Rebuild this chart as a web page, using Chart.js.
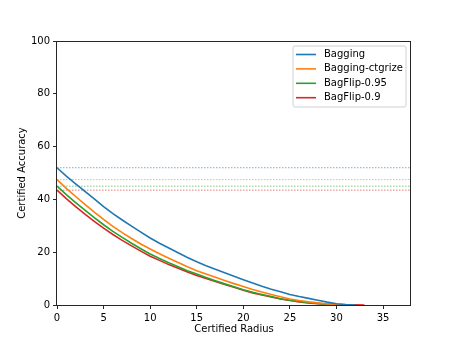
<!DOCTYPE html>
<html>
<head>
<meta charset="utf-8">
<script src="https://cdn.jsdelivr.net/npm/chart.js@4/dist/chart.umd.min.js"></script>
<style>
html,body{margin:0;padding:0;background:#fff;}
#wrap{width:457px;height:343px;position:relative;}
</style>
</head>
<body>
<div id="wrap"><canvas id="c" width="457" height="343"></canvas></div>
<script>
const seriesNames = ["Bagging", "Bagging-ctgrize", "BagFlip-0.95", "BagFlip-0.9"];
const seriesColors = ["#1f77b4", "#ff7f0e", "#2ca02c", "#d62728"];
const radii = [0,1,2,3,4,5,6,7,8,9,10,11,12,13,14,15,16,17,18,19,20,21,22,23,24,25,26,27,28,29,30,31,32,33];
const bagging = [52,48.8,45.9,43,40.2,37.3,34.6,32.2,29.9,27.6,25.4,23.4,21.6,19.8,18,16.4,14.9,13.5,12.2,10.9,9.6,8.3,7.1,6,5,4,3.2,2.5,1.8,1.1,0.5,0.2,0];
const baggingCtgrize = [47.5,44.2,41.1,38.1,35.2,32.4,29.8,27.4,25.2,23.1,21.2,19.4,17.7,16.1,14.5,13,11.7,10.5,9.3,8.1,7,5.9,4.9,4,3.1,2.3,1.7,1.2,0.8,0.4,0.2,0.1,0];
const bagflip095 = [45,41.8,38.8,35.9,33.1,30.4,27.9,25.6,23.4,21.3,19.3,17.6,16,14.5,13,11.7,10.4,9.2,8,6.9,5.8,4.8,4,3.2,2.4,1.8,1.3,0.9,0.6,0.3,0.15,0.05,0];
const bagflip09 = [43.5,40.3,37.3,34.4,31.7,29.1,26.7,24.5,22.4,20.4,18.5,16.9,15.3,13.9,12.5,11.2,10,8.9,7.8,6.7,5.6,4.6,3.8,3,2.3,1.7,1.2,0.8,0.5,0.3,0.15,0.08,0.03,0];
const cleanAccuracy = [52, 47.5, 45, 43.5];
const xTicks = [0,5,10,15,20,25,30,35];
const yTicks = [0,20,40,60,80,100];
const xMax = 38;

const curves = [bagging, baggingCtgrize, bagflip095, bagflip09];

function hexA(hex, a){
  const n = parseInt(hex.slice(1),16);
  return `rgba(${(n>>16)&255},${(n>>8)&255},${n&255},${a})`;
}

const datasets = [];
curves.forEach((vals, i) => {
  datasets.push({
    label: seriesNames[i],
    data: vals.map((v, k) => ({x: radii[k], y: v})),
    borderColor: seriesColors[i],
    backgroundColor: seriesColors[i],
    borderWidth: 1.6,
    pointRadius: 0,
    tension: 0,
    fill: false,
    order: 1
  });
});
cleanAccuracy.forEach((v, i) => {
  datasets.push({
    label: '_clean' + i,
    data: [{x: 0, y: v}, {x: xMax, y: v}],
    borderColor: hexA(seriesColors[i], 0.6),
    borderWidth: 1,
    borderDash: [1.5, 1.5],
    pointRadius: 0,
    fill: false,
    order: 2
  });
});

const framePlugin = {
  id: 'frame',
  afterDatasetsDraw(chart) {
    const {ctx, chartArea: a} = chart;
    ctx.save();
    ctx.strokeStyle = '#262626';
    ctx.lineWidth = 1;
    const l = Math.round(a.left) - 0.5, t = Math.round(a.top) + 0.5;
    const r = Math.round(a.right) - 0.5, b = Math.round(a.bottom) + 0.5;
    ctx.strokeRect(l, t, r - l, b - t);
    ctx.restore();
  }
};

const legendPlugin = {
  id: 'mplLegend',
  afterDraw(chart) {
    const ctx = chart.ctx;
    const a = chart.chartArea;
    const bx = a.right - 118, by = a.top + 5, bw = 113, bh = 61;
    ctx.save();
    ctx.fillStyle = 'rgba(255,255,255,0.8)';
    ctx.strokeStyle = '#d0d0d0';
    ctx.lineWidth = 1;
    const r = 2;
    ctx.beginPath();
    ctx.moveTo(bx + r, by);
    ctx.lineTo(bx + bw - r, by);
    ctx.quadraticCurveTo(bx + bw, by, bx + bw, by + r);
    ctx.lineTo(bx + bw, by + bh - r);
    ctx.quadraticCurveTo(bx + bw, by + bh, bx + bw - r, by + bh);
    ctx.lineTo(bx + r, by + bh);
    ctx.quadraticCurveTo(bx, by + bh, bx, by + bh - r);
    ctx.lineTo(bx, by + r);
    ctx.quadraticCurveTo(bx, by, bx + r, by);
    ctx.closePath();
    ctx.fill();
    ctx.stroke();
    ctx.font = '10px "DejaVu Sans"';
    ctx.textBaseline = 'middle';
    ctx.fillStyle = '#000';
    seriesNames.forEach((name, i) => {
      const y = by + 8.5 + i * 14.4;
      ctx.strokeStyle = seriesColors[i];
      ctx.lineWidth = 1.6;
      ctx.beginPath();
      ctx.moveTo(bx + 3, y);
      ctx.lineTo(bx + 23, y);
      ctx.stroke();
      ctx.fillText(name, bx + 31, y);
    });
    ctx.restore();
  }
};

new Chart(document.getElementById('c'), {
  type: 'line',
  data: { datasets },
  options: {
    responsive: false,
    animation: false,
    devicePixelRatio: 1,
    layout: { padding: { left: 0, right: 46, top: 41, bottom: 0 } },
    plugins: { legend: { display: false }, tooltip: { enabled: false } },
    scales: {
      x: {
        type: 'linear',
        min: 0, max: xMax,
        afterBuildTicks(s) { s.ticks = xTicks.map(v => ({value: v})); },
        afterFit(s) { s.height = 38; },
        grid: { display: true, drawOnChartArea: false, drawTicks: true, tickLength: 4, color: '#262626', lineWidth: 1 },
        border: { display: false },
        ticks: { color: '#000', font: { family: 'DejaVu Sans', size: 10 }, padding: 3, maxRotation: 0 },
        title: { display: true, text: 'Certified Radius', color: '#000', font: { family: 'DejaVu Sans', size: 10 }, padding: { top: 0, bottom: 8 } }
      },
      y: {
        type: 'linear',
        min: 0, max: 100,
        afterBuildTicks(s) { s.ticks = yTicks.map(v => ({value: v})); },
        afterFit(s) { s.width = 57; },
        grid: { display: true, drawOnChartArea: false, drawTicks: true, tickLength: 4, color: '#262626', lineWidth: 1 },
        border: { display: false },
        ticks: { color: '#000', font: { family: 'DejaVu Sans', size: 10 }, padding: 3 },
        title: { display: true, text: 'Certified Accuracy', color: '#000', font: { family: 'DejaVu Sans', size: 10 }, padding: { top: 16, bottom: 0 } }
      }
    }
  },
  plugins: [framePlugin, legendPlugin]
});
</script>
</body>
</html>
